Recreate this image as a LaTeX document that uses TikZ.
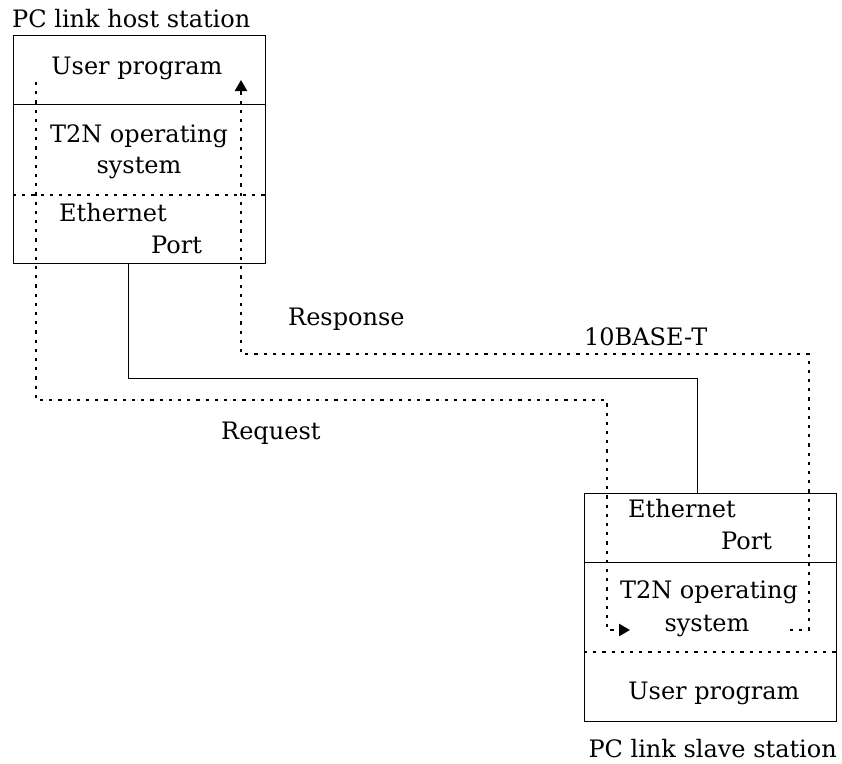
\documentclass[tikz,border=0pt]{standalone}
\usepackage{fontspec}
\setmainfont{DejaVu Serif}
\usetikzlibrary{arrows.meta}
\begin{document}
\begin{tikzpicture}[x=1pt,y=-1pt,
  lbl/.style={font=\fontsize{24}{32}\selectfont, inner sep=0pt},
  stationbox/.style={draw=black, line width=1pt, minimum width=252pt, minimum height=228pt, inner sep=0pt, anchor=north west},
  divsolid/.style={line width=1pt},
  dots/.style={line width=2.4pt, dash pattern=on 3.2pt off 6pt},
  cable/.style={line width=1pt},
  tip/.style={-{Triangle[length=11pt,width=12pt]}}]
\useasboundingbox (0,0) rectangle (842,763);
% host station
\node[stationbox] (host) at (13,35) {};
\draw[divsolid] (13,104) -- (265,104);
\draw[dots] (13,195) -- (265,195);
\node[lbl, anchor=base west] (hostname) at (12,27) {PC link host station};
\node[lbl, anchor=base] (hostuser) at (137,74) {User program};
\node[lbl, anchor=base] (hostos) at (139,142) {T2N operating};
\node[lbl, anchor=base] (hostsys) at (139,173) {system};
\node[lbl, anchor=base west] (hosteth) at (59,221) {Ethernet};
\node[lbl, anchor=base west] (hostport) at (151,253) {Port};
% slave station
\node[stationbox] (slave) at (584,493) {};
\draw[divsolid] (584,562) -- (836,562);
\draw[dots] (584,652) -- (836,652);
\node[lbl, anchor=base east] (slavename) at (837,757) {PC link slave station};
\node[lbl, anchor=base west] (slaveeth) at (628,517) {Ethernet};
\node[lbl, anchor=base west] (slaveport) at (721,549) {Port};
\node[lbl, anchor=base] (slaveos) at (709,598) {T2N operating};
\node[lbl, anchor=base] (slavesys) at (707,631) {system};
\node[lbl, anchor=base] (slaveuser) at (714,699) {User program};
% labels
\node[lbl, anchor=base west] (resp) at (288,325) {Response};
\node[lbl, anchor=base west] (tenbase) at (584,345) {10BASE-T};
\node[lbl, anchor=base west] (req) at (221,439) {Request};
% cable
\coordinate (cabA) at (128,263);
\coordinate (cabB) at (697,493);
\draw[cable] (cabA) -- (cabA |- 0,378) -- (cabB |- 0,378) -- (cabB);
% request path
\coordinate (reqS) at (36,82);
\coordinate (reqE) at (630,630);
\draw[dots, tip] (reqS) -- (36,400) -- (607,400) -- (607,630) -- (reqE);
% response path
\coordinate (resS) at (790,630);
\coordinate (resE) at (241,80);
\draw[dots, tip] (resS) -- (809,630) -- (809,354) -- (241,354) -- (resE);
\end{tikzpicture}
\end{document}
